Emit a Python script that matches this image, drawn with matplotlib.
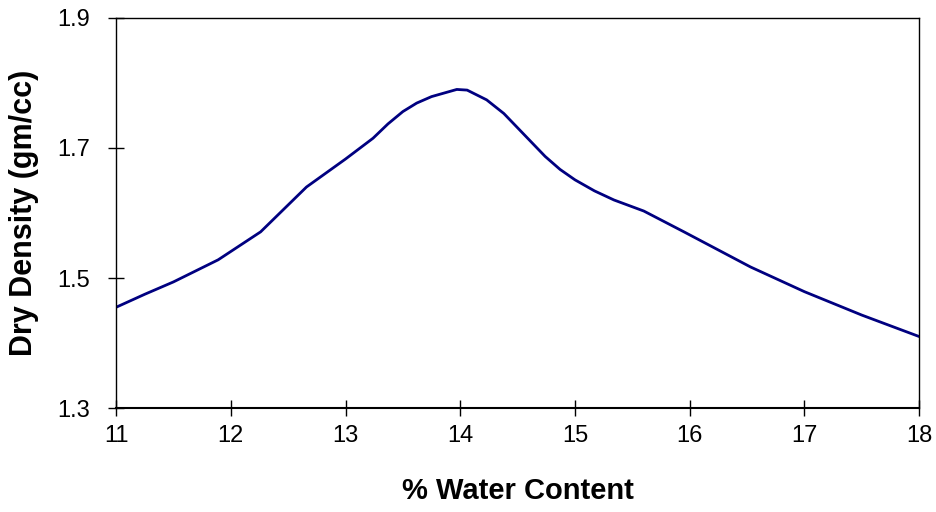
import matplotlib
matplotlib.use("Agg")
import matplotlib.pyplot as plt

# ── Data ──
water_content = [11.0, 11.25, 11.5, 11.89, 12.26, 12.66, 13.0, 13.24, 13.37, 13.5,
                 13.62, 13.75, 13.97, 14.06, 14.23, 14.38, 14.74,
                 14.87, 15.0, 15.17, 15.34, 15.6, 15.95, 16.53, 17.0, 17.5, 18.0]
dry_density = [1.455, 1.475, 1.494, 1.528, 1.571, 1.640, 1.683, 1.715, 1.737, 1.756,
               1.769, 1.779, 1.790, 1.789, 1.774, 1.753, 1.687,
               1.667, 1.651, 1.634, 1.620, 1.603, 1.571, 1.517, 1.479, 1.443, 1.410]
x_ticks = [11, 12, 13, 14, 15, 16, 17, 18]
y_ticks = [1.3, 1.5, 1.7, 1.9]

plt.rcParams["font.family"] = ["Liberation Sans", "DejaVu Sans"]

fig = plt.figure(figsize=(9.36, 5.12), dpi=100)
ax = fig.add_axes([0.124, 0.203, 0.858, 0.762])

ax.plot(water_content, dry_density, color="#000080", lw=2.0,
        solid_capstyle="round", solid_joinstyle="round")

ax.set_xlim(11, 18)
ax.set_ylim(1.3, 1.9)
ax.set_xticks(x_ticks)
ax.set_yticks(y_ticks)
ax.set_xticklabels([str(t) for t in x_ticks])
ax.set_yticklabels([f"{t:.1f}" for t in y_ticks])

for s in ax.spines.values():
    s.set_linewidth(1.0)
    s.set_color("black")
ax.spines["bottom"].set_linewidth(1.5)

ax.tick_params(axis="both", direction="inout", length=12, width=1.0, labelsize=17, colors="black")
ax.tick_params(axis="x", pad=6)
ax.tick_params(axis="y", pad=13)

ax.set_xlabel("% Water Content", fontsize=21, fontweight="bold", labelpad=22)
ax.set_ylabel("Dry Density (gm/cc)", fontsize=22, fontweight="bold", labelpad=13)

plt.savefig("out.png", dpi=100)
